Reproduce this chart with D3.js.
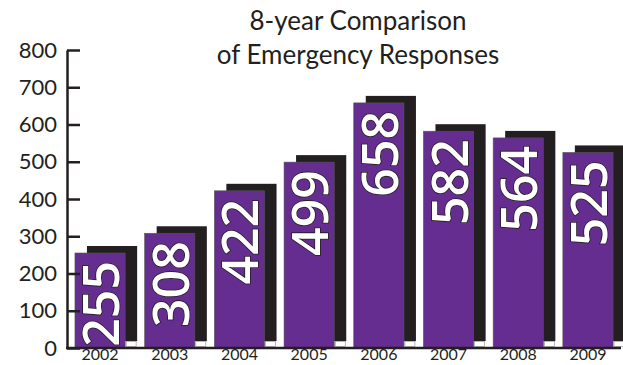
<!DOCTYPE html>
<html>
<head>
<meta charset="utf-8">
<script src="https://cdn.jsdelivr.net/npm/d3@7"></script>
<style>
  body { margin: 0; background: #fff; }
  svg { display: block; }
</style>
</head>
<body>
<div id="chart"></div>
<script>
// chart values
var years = ['2002', '2003', '2004', '2005', '2006', '2007', '2008', '2009'];
var responses = [255, 308, 422, 499, 658, 582, 564, 525];
var yTicks = [0, 100, 200, 300, 400, 500, 600, 700, 800];
var titleLines = ['8-year Comparison', 'of Emergency Responses'];

var width = 623, height = 365;
var ink = '#231f20', purple = '#662d91';

var svg = d3.select('#chart').append('svg')
  .attr('width', width)
  .attr('height', height);

// scales
var x = d3.scaleBand()
  .domain(years)
  .range([65.2, 622.8])
  .paddingInner(0.28)
  .paddingOuter(0.14);
var y = d3.scaleLinear()
  .domain([0, 800])
  .range([348, 50]);

var data = years.map(function(yr, i) { return { year: yr, value: responses[i] }; });

// shadows behind the bars
var shadowDx = 12, shadowDy = 7, shadowBottom = 341;
svg.append('g').selectAll('rect').data(data).enter().append('rect')
  .attr('x', function(d) { return x(d.year) + shadowDx; })
  .attr('y', function(d) { return y(d.value) - shadowDy; })
  .attr('width', x.bandwidth())
  .attr('height', function(d) { return shadowBottom - (y(d.value) - shadowDy); })
  .attr('fill', ink);

// small white blocks under each shadow
svg.append('g').selectAll('rect').data(data).enter().append('rect')
  .attr('x', function(d) { return x(d.year) + x.bandwidth() + 1; })
  .attr('y', shadowBottom + 0.5)
  .attr('width', shadowDx - 2)
  .attr('height', 5)
  .attr('fill', '#fff')
  .attr('stroke', '#888')
  .attr('stroke-width', 0.6);

// purple bars
svg.append('g').selectAll('rect').data(data).enter().append('rect')
  .attr('x', function(d) { return x(d.year); })
  .attr('y', function(d) { return y(d.value); })
  .attr('width', x.bandwidth())
  .attr('height', function(d) { return y(0) - y(d.value); })
  .attr('fill', purple)
  .attr('stroke', '#555')
  .attr('stroke-width', 0.6);

// value labels, rotated inside bars
svg.append('g').selectAll('text').data(data).enter().append('text')
  .attr('transform', function(d) {
    return 'translate(' + (x(d.year) + x.bandwidth() / 2) + ',' + (y(d.value) + 8) + ') rotate(-90)';
  })
  .attr('text-anchor', 'end')
  .attr('dominant-baseline', 'central')
  .attr('font-family', 'Open Sans, sans-serif')
  .attr('font-weight', 600)
  .attr('font-size', 50)
  .attr('fill', '#fff')
  .attr('stroke', ink)
  .attr('stroke-width', 1.6)
  .attr('paint-order', 'stroke')
  .text(function(d) { return d.value; });

// y axis
var yAxis = d3.axisLeft(y).tickValues(yTicks).tickSize(-13).tickPadding(10).tickSizeOuter(0);
var gy = svg.append('g').attr('transform', 'translate(67,0)').call(yAxis);
gy.select('.domain').attr('stroke', ink).attr('stroke-width', 2.5);
gy.selectAll('.tick line').attr('stroke', ink).attr('stroke-width', 2.5);
gy.selectAll('.tick text')
  .attr('x', -10)
  .attr('font-family', 'Lato, sans-serif')
  .attr('font-size', 22)
  .attr('fill', ink);

// x axis
var xAxis = d3.axisBottom(x).tickSize(0).tickPadding(1);
var gx = svg.append('g').attr('transform', 'translate(0,' + y(0) + ')').call(xAxis);
gx.select('.domain').attr('d', 'M66,0H621').attr('stroke', ink).attr('stroke-width', 2.5);
gx.selectAll('.tick text')
  .attr('font-family', 'Lato, sans-serif')
  .attr('font-size', 16)
  .attr('fill', ink);

// title
svg.append('g').selectAll('text').data(titleLines).enter().append('text')
  .attr('x', 358)
  .attr('y', function(d, i) { return 30 + i * 34; })
  .attr('text-anchor', 'middle')
  .attr('font-family', 'Lato, sans-serif')
  .attr('font-size', 26)
  .attr('fill', ink)
  .text(function(d) { return d; });
</script>
</body>
</html>
